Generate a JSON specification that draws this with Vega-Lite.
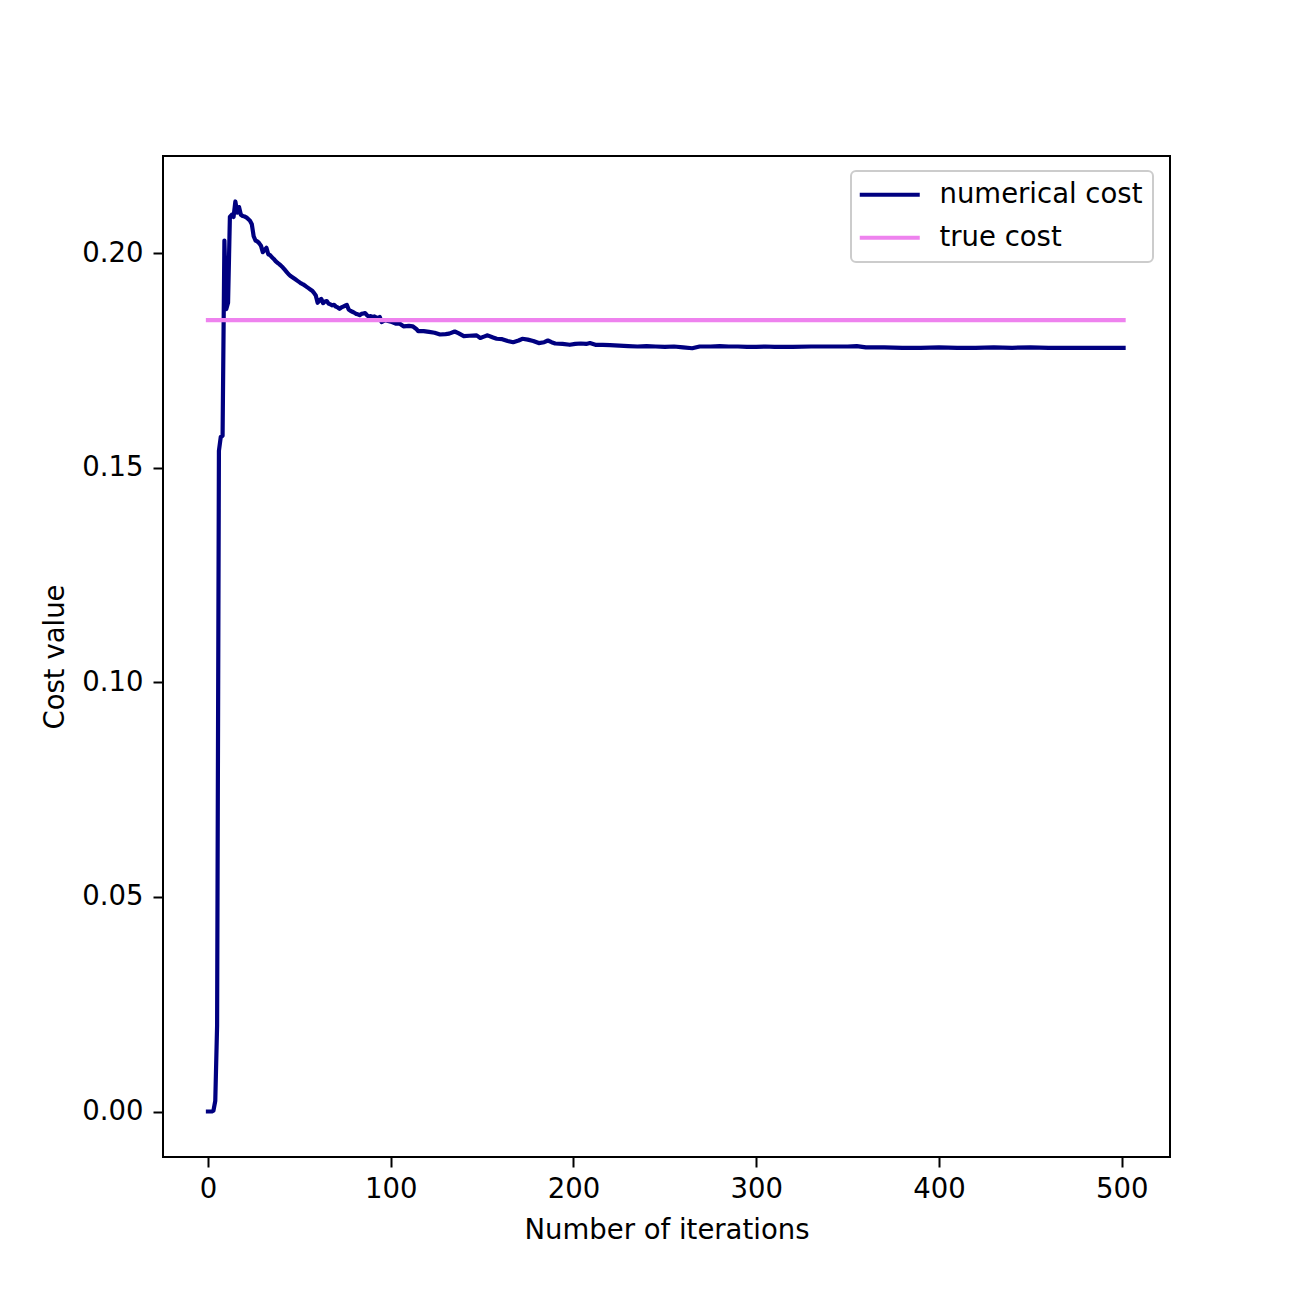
{
  "$schema": "https://vega.github.io/schema/vega-lite/v6.json",
  "width": 1007,
  "height": 1001,
  "autosize": {"type": "none"},
  "padding": {"left": 163, "top": 156, "right": 130, "bottom": 143},
  "background": "white",
  "config": {
    "font": "DejaVu Sans",
    "view": {"stroke": "black", "strokeWidth": 2},
    "legend": {"strokeWidth": 2},
    "axis": {
      "domain": false,
      "grid": false,
      "ticks": true,
      "tickColor": "black",
      "tickWidth": 2,
      "tickSize": 10,
      "labelFont": "DejaVu Sans",
      "labelFontSize": 27.5,
      "labelColor": "black",
      "titleFont": "DejaVu Sans",
      "titleFontSize": 27.5,
      "titleFontWeight": "normal",
      "titleColor": "black"
    }
  },
  "data": {
    "values": [
      {"it": 0, "cost": 0, "series": "numerical cost"},
      {"it": 1, "cost": 0, "series": "numerical cost"},
      {"it": 2, "cost": 0, "series": "numerical cost"},
      {"it": 3, "cost": 0.0002, "series": "numerical cost"},
      {"it": 4, "cost": 0.0025, "series": "numerical cost"},
      {"it": 5, "cost": 0.020, "series": "numerical cost"},
      {"it": 6, "cost": 0.1540, "series": "numerical cost"},
      {"it": 7, "cost": 0.1572, "series": "numerical cost"},
      {"it": 8, "cost": 0.1575, "series": "numerical cost"},
      {"it": 9, "cost": 0.2030, "series": "numerical cost"},
      {"it": 10, "cost": 0.1870, "series": "numerical cost"},
      {"it": 11, "cost": 0.1885, "series": "numerical cost"},
      {"it": 12, "cost": 0.2085, "series": "numerical cost"},
      {"it": 13, "cost": 0.2090, "series": "numerical cost"},
      {"it": 14, "cost": 0.2085, "series": "numerical cost"},
      {"it": 15, "cost": 0.2121, "series": "numerical cost"},
      {"it": 16, "cost": 0.2095, "series": "numerical cost"},
      {"it": 17, "cost": 0.2108, "series": "numerical cost"},
      {"it": 18, "cost": 0.2090, "series": "numerical cost"},
      {"it": 19, "cost": 0.2087, "series": "numerical cost"},
      {"it": 20, "cost": 0.2086, "series": "numerical cost"},
      {"it": 21, "cost": 0.2084, "series": "numerical cost"},
      {"it": 22, "cost": 0.2080, "series": "numerical cost"},
      {"it": 23, "cost": 0.2076, "series": "numerical cost"},
      {"it": 24, "cost": 0.2068, "series": "numerical cost"},
      {"it": 25, "cost": 0.2040, "series": "numerical cost"},
      {"it": 26, "cost": 0.2030, "series": "numerical cost"},
      {"it": 27, "cost": 0.2028, "series": "numerical cost"},
      {"it": 28, "cost": 0.2024, "series": "numerical cost"},
      {"it": 29, "cost": 0.2018, "series": "numerical cost"},
      {"it": 30, "cost": 0.2003, "series": "numerical cost"},
      {"it": 31, "cost": 0.2008, "series": "numerical cost"},
      {"it": 32, "cost": 0.2013, "series": "numerical cost"},
      {"it": 33, "cost": 0.1998, "series": "numerical cost"},
      {"it": 34, "cost": 0.1996, "series": "numerical cost"},
      {"it": 35, "cost": 0.1991, "series": "numerical cost"},
      {"it": 36, "cost": 0.1987, "series": "numerical cost"},
      {"it": 37, "cost": 0.1982, "series": "numerical cost"},
      {"it": 38, "cost": 0.1978, "series": "numerical cost"},
      {"it": 39, "cost": 0.1975, "series": "numerical cost"},
      {"it": 40, "cost": 0.1971, "series": "numerical cost"},
      {"it": 41, "cost": 0.1967, "series": "numerical cost"},
      {"it": 42, "cost": 0.1962, "series": "numerical cost"},
      {"it": 43, "cost": 0.1957, "series": "numerical cost"},
      {"it": 44, "cost": 0.1952, "series": "numerical cost"},
      {"it": 45, "cost": 0.1948, "series": "numerical cost"},
      {"it": 46, "cost": 0.1945, "series": "numerical cost"},
      {"it": 47, "cost": 0.1942, "series": "numerical cost"},
      {"it": 48, "cost": 0.1939, "series": "numerical cost"},
      {"it": 49, "cost": 0.1936, "series": "numerical cost"},
      {"it": 50, "cost": 0.1933, "series": "numerical cost"},
      {"it": 51, "cost": 0.1930, "series": "numerical cost"},
      {"it": 52, "cost": 0.1928, "series": "numerical cost"},
      {"it": 53, "cost": 0.1925, "series": "numerical cost"},
      {"it": 54, "cost": 0.1922, "series": "numerical cost"},
      {"it": 55, "cost": 0.1919, "series": "numerical cost"},
      {"it": 56, "cost": 0.1916, "series": "numerical cost"},
      {"it": 57, "cost": 0.1913, "series": "numerical cost"},
      {"it": 58, "cost": 0.1908, "series": "numerical cost"},
      {"it": 59, "cost": 0.1902, "series": "numerical cost"},
      {"it": 60, "cost": 0.1885, "series": "numerical cost"},
      {"it": 61, "cost": 0.1890, "series": "numerical cost"},
      {"it": 62, "cost": 0.1894, "series": "numerical cost"},
      {"it": 63, "cost": 0.1884, "series": "numerical cost"},
      {"it": 64, "cost": 0.1888, "series": "numerical cost"},
      {"it": 65, "cost": 0.1889, "series": "numerical cost"},
      {"it": 66, "cost": 0.1883, "series": "numerical cost"},
      {"it": 67, "cost": 0.1881, "series": "numerical cost"},
      {"it": 68, "cost": 0.1879, "series": "numerical cost"},
      {"it": 69, "cost": 0.1880, "series": "numerical cost"},
      {"it": 70, "cost": 0.1876, "series": "numerical cost"},
      {"it": 71, "cost": 0.1874, "series": "numerical cost"},
      {"it": 72, "cost": 0.1871, "series": "numerical cost"},
      {"it": 73, "cost": 0.1874, "series": "numerical cost"},
      {"it": 74, "cost": 0.1876, "series": "numerical cost"},
      {"it": 75, "cost": 0.1878, "series": "numerical cost"},
      {"it": 76, "cost": 0.1880, "series": "numerical cost"},
      {"it": 77, "cost": 0.1869, "series": "numerical cost"},
      {"it": 78, "cost": 0.1866, "series": "numerical cost"},
      {"it": 79, "cost": 0.1864, "series": "numerical cost"},
      {"it": 80, "cost": 0.1862, "series": "numerical cost"},
      {"it": 81, "cost": 0.1859, "series": "numerical cost"},
      {"it": 82, "cost": 0.1858, "series": "numerical cost"},
      {"it": 83, "cost": 0.1856, "series": "numerical cost"},
      {"it": 84, "cost": 0.1859, "series": "numerical cost"},
      {"it": 85, "cost": 0.1860, "series": "numerical cost"},
      {"it": 86, "cost": 0.1861, "series": "numerical cost"},
      {"it": 87, "cost": 0.1856, "series": "numerical cost"},
      {"it": 88, "cost": 0.1853, "series": "numerical cost"},
      {"it": 89, "cost": 0.1854, "series": "numerical cost"},
      {"it": 90, "cost": 0.1852, "series": "numerical cost"},
      {"it": 91, "cost": 0.1853, "series": "numerical cost"},
      {"it": 92, "cost": 0.1851, "series": "numerical cost"},
      {"it": 93, "cost": 0.1849, "series": "numerical cost"},
      {"it": 94, "cost": 0.1852, "series": "numerical cost"},
      {"it": 95, "cost": 0.1840, "series": "numerical cost"},
      {"it": 96, "cost": 0.1842, "series": "numerical cost"},
      {"it": 97, "cost": 0.1844, "series": "numerical cost"},
      {"it": 98, "cost": 0.1843, "series": "numerical cost"},
      {"it": 99, "cost": 0.1842, "series": "numerical cost"},
      {"it": 100, "cost": 0.1841, "series": "numerical cost"},
      {"it": 103, "cost": 0.1836, "series": "numerical cost"},
      {"it": 105, "cost": 0.1836, "series": "numerical cost"},
      {"it": 107, "cost": 0.1830, "series": "numerical cost"},
      {"it": 110, "cost": 0.1831, "series": "numerical cost"},
      {"it": 112, "cost": 0.1830, "series": "numerical cost"},
      {"it": 114, "cost": 0.1824, "series": "numerical cost"},
      {"it": 115, "cost": 0.1819, "series": "numerical cost"},
      {"it": 118, "cost": 0.1819, "series": "numerical cost"},
      {"it": 121, "cost": 0.1817, "series": "numerical cost"},
      {"it": 124, "cost": 0.1815, "series": "numerical cost"},
      {"it": 127, "cost": 0.1811, "series": "numerical cost"},
      {"it": 130, "cost": 0.1812, "series": "numerical cost"},
      {"it": 132, "cost": 0.1813, "series": "numerical cost"},
      {"it": 135, "cost": 0.1818, "series": "numerical cost"},
      {"it": 137, "cost": 0.1814, "series": "numerical cost"},
      {"it": 140, "cost": 0.1807, "series": "numerical cost"},
      {"it": 143, "cost": 0.1808, "series": "numerical cost"},
      {"it": 147, "cost": 0.1809, "series": "numerical cost"},
      {"it": 149, "cost": 0.1803, "series": "numerical cost"},
      {"it": 151, "cost": 0.1806, "series": "numerical cost"},
      {"it": 153, "cost": 0.1809, "series": "numerical cost"},
      {"it": 156, "cost": 0.1804, "series": "numerical cost"},
      {"it": 158, "cost": 0.1801, "series": "numerical cost"},
      {"it": 161, "cost": 0.1800, "series": "numerical cost"},
      {"it": 164, "cost": 0.1796, "series": "numerical cost"},
      {"it": 167, "cost": 0.1793, "series": "numerical cost"},
      {"it": 170, "cost": 0.1797, "series": "numerical cost"},
      {"it": 172, "cost": 0.1801, "series": "numerical cost"},
      {"it": 175, "cost": 0.1799, "series": "numerical cost"},
      {"it": 178, "cost": 0.1796, "series": "numerical cost"},
      {"it": 181, "cost": 0.1791, "series": "numerical cost"},
      {"it": 184, "cost": 0.1793, "series": "numerical cost"},
      {"it": 186, "cost": 0.1797, "series": "numerical cost"},
      {"it": 188, "cost": 0.1793, "series": "numerical cost"},
      {"it": 190, "cost": 0.1790, "series": "numerical cost"},
      {"it": 194, "cost": 0.1789, "series": "numerical cost"},
      {"it": 198, "cost": 0.1787, "series": "numerical cost"},
      {"it": 201, "cost": 0.1789, "series": "numerical cost"},
      {"it": 204, "cost": 0.1790, "series": "numerical cost"},
      {"it": 207, "cost": 0.1789, "series": "numerical cost"},
      {"it": 209, "cost": 0.1791, "series": "numerical cost"},
      {"it": 212, "cost": 0.1787, "series": "numerical cost"},
      {"it": 216, "cost": 0.1787, "series": "numerical cost"},
      {"it": 220, "cost": 0.1786, "series": "numerical cost"},
      {"it": 225, "cost": 0.1785, "series": "numerical cost"},
      {"it": 230, "cost": 0.1784, "series": "numerical cost"},
      {"it": 235, "cost": 0.1783, "series": "numerical cost"},
      {"it": 240, "cost": 0.1784, "series": "numerical cost"},
      {"it": 245, "cost": 0.1783, "series": "numerical cost"},
      {"it": 250, "cost": 0.1782, "series": "numerical cost"},
      {"it": 255, "cost": 0.1783, "series": "numerical cost"},
      {"it": 260, "cost": 0.1781, "series": "numerical cost"},
      {"it": 265, "cost": 0.1779, "series": "numerical cost"},
      {"it": 269, "cost": 0.1783, "series": "numerical cost"},
      {"it": 275, "cost": 0.1783, "series": "numerical cost"},
      {"it": 280, "cost": 0.1784, "series": "numerical cost"},
      {"it": 285, "cost": 0.1783, "series": "numerical cost"},
      {"it": 290, "cost": 0.1783, "series": "numerical cost"},
      {"it": 295, "cost": 0.1782, "series": "numerical cost"},
      {"it": 300, "cost": 0.1782, "series": "numerical cost"},
      {"it": 305, "cost": 0.1783, "series": "numerical cost"},
      {"it": 310, "cost": 0.1782, "series": "numerical cost"},
      {"it": 320, "cost": 0.1782, "series": "numerical cost"},
      {"it": 330, "cost": 0.1783, "series": "numerical cost"},
      {"it": 340, "cost": 0.1783, "series": "numerical cost"},
      {"it": 350, "cost": 0.1783, "series": "numerical cost"},
      {"it": 355, "cost": 0.1784, "series": "numerical cost"},
      {"it": 360, "cost": 0.1781, "series": "numerical cost"},
      {"it": 370, "cost": 0.1781, "series": "numerical cost"},
      {"it": 380, "cost": 0.1780, "series": "numerical cost"},
      {"it": 390, "cost": 0.1780, "series": "numerical cost"},
      {"it": 400, "cost": 0.1781, "series": "numerical cost"},
      {"it": 410, "cost": 0.1780, "series": "numerical cost"},
      {"it": 420, "cost": 0.1780, "series": "numerical cost"},
      {"it": 430, "cost": 0.1781, "series": "numerical cost"},
      {"it": 440, "cost": 0.1780, "series": "numerical cost"},
      {"it": 450, "cost": 0.1781, "series": "numerical cost"},
      {"it": 460, "cost": 0.1780, "series": "numerical cost"},
      {"it": 470, "cost": 0.1780, "series": "numerical cost"},
      {"it": 480, "cost": 0.1780, "series": "numerical cost"},
      {"it": 490, "cost": 0.1780, "series": "numerical cost"},
      {"it": 501, "cost": 0.1780, "series": "numerical cost"},
      {"it": 0, "cost": 0.18445, "series": "true cost"},
      {"it": 501, "cost": 0.18445, "series": "true cost"}
    ]
  },
  "encoding": {
    "x": {
      "field": "it",
      "type": "quantitative",
      "scale": {"domain": [-24.6, 526.4], "nice": false, "zero": false},
      "axis": {
        "title": "Number of iterations",
        "values": [0, 100, 200, 300, 400, 500],
        "format": "d",
        "labelPadding": 8,
        "titleY": 81,
        "titleBaseline": "alphabetic"
      }
    },
    "y": {
      "field": "cost",
      "type": "quantitative",
      "scale": {"domain": [-0.0106, 0.2227], "nice": false, "zero": false},
      "axis": {
        "title": "Cost value",
        "values": [0, 0.05, 0.1, 0.15, 0.2],
        "format": ".2f",
        "labelPadding": 10,
        "titleX": -99.7,
        "titleY": 500.5,
        "titleAngle": -90,
        "titleAlign": "center",
        "titleBaseline": "alphabetic"
      }
    },
    "color": {
      "field": "series",
      "type": "nominal",
      "scale": {"domain": ["numerical cost", "true cost"], "range": ["#000080", "#ee82ee"]},
      "legend": {
        "title": null,
        "orient": "none",
        "legendX": 688,
        "legendY": 15,
        "padding": 10,
        "symbolType": "M-3,0H3",
        "symbolSize": 400,
        "symbolStrokeWidth": 4.2,
        "symbolOffset": 15,
        "labelOffset": 36,
        "labelLimit": 600,
        "labelFontSize": 27.5,
        "labelFont": "DejaVu Sans",
        "labelColor": "black",
        "rowPadding": 14,
        "strokeColor": "#cccccc",
        "fillColor": "white",
        "cornerRadius": 5
      }
    },
    "order": {"field": "it", "type": "quantitative"}
  },
  "layer": [
    {
      "transform": [{"filter": "datum.series === 'numerical cost'"}],
      "mark": {"type": "line", "strokeWidth": 4.2, "strokeCap": "square", "strokeJoin": "round"}
    },
    {
      "transform": [{"filter": "datum.series === 'true cost'"}],
      "mark": {"type": "line", "strokeWidth": 4.2, "strokeCap": "square", "strokeJoin": "round"}
    }
  ]
}
